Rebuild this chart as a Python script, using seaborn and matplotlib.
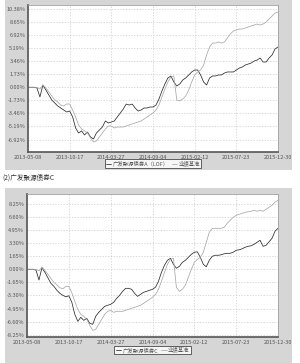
import numpy as np
import pandas as pd
import matplotlib
matplotlib.use("Agg")
import matplotlib.pyplot as plt
import seaborn as sns
from matplotlib.patches import Rectangle

# ---------------- data ----------------
date_labels = ["2013-05-08", "2013-10-17", "2014-03-27", "2014-09-04",
               "2015-02-12", "2015-07-23", "2015-12-30"]

# Panel 1: 广发聚源债券A(LOF) vs 业绩基准 (cumulative return, %)
fund_a = [0.00, 0.00, 0.00, -0.09, -1.28, 0.30, -0.36, -1.02, -1.69, -2.08,
          -2.48, -2.74, -3.01, -3.27, -3.14, -3.93, -5.39, -6.05, -5.78, -6.31,
          -5.92, -6.58, -6.84, -6.05, -5.65, -5.26, -4.46, -4.73, -4.60, -4.46,
          -3.93, -3.41, -2.88, -2.22, -2.35, -2.22, -2.74, -3.14, -3.01, -2.74,
          -2.74, -2.61, -2.61, -2.35, -1.56, -0.49, 0.44, 1.23, 1.50, 0.70,
          0.17, 0.44, 0.97, 1.23, 1.63, 2.03, 2.29, 2.29, 1.63, 0.70,
          0.30, 1.23, 1.50, 1.50, 1.63, 1.63, 1.89, 2.03, 2.03, 2.03,
          2.29, 2.55, 2.69, 2.95, 3.08, 3.22, 3.48, 3.61, 3.88, 3.35,
          3.35, 3.88, 4.28, 5.07, 5.34]
bench_a = [0.00, 0.00, 0.00, 0.00, -0.23, 0.30, -0.09, -0.62, -1.15, -1.68,
           -1.94, -2.35, -2.48, -2.21, -2.21, -3.01, -3.93, -4.99, -5.52, -5.78,
           -6.05, -6.71, -7.24, -7.11, -6.58, -6.05, -5.52, -5.12, -5.12, -5.39,
           -5.26, -5.26, -5.26, -5.12, -4.99, -4.86, -4.73, -4.59, -4.46, -4.20,
           -3.93, -3.67, -3.40, -3.01, -2.35, -1.28, -0.23, 0.70, 1.36, 1.50,
           -1.69, -1.81, -1.55, -1.15, -0.36, 0.70, 1.63, 2.03, 2.29, 2.95,
           4.28, 5.34, 5.86, 5.86, 6.00, 5.86, 6.00, 6.53, 7.06, 7.45,
           7.59, 7.72, 7.72, 7.85, 7.98, 8.12, 8.25, 8.38, 8.25, 8.38,
           8.65, 9.04, 9.44, 9.84, 9.97]

# Panel 2: 广发聚源债券C vs 业绩基准 (cumulative return, %)
fund_c = [0.00, 0.00, 0.00, -0.09, -1.35, 0.20, -0.38, -1.07, -1.77, -2.15,
          -2.65, -3.03, -3.28, -3.47, -3.34, -4.16, -5.68, -6.56, -6.06, -6.44,
          -6.18, -6.81, -6.94, -5.93, -5.43, -5.05, -4.67, -4.54, -4.42, -4.16,
          -3.66, -3.28, -2.78, -2.40, -2.40, -2.52, -3.03, -3.41, -3.16, -2.90,
          -2.78, -2.65, -2.52, -2.27, -1.51, -0.38, 0.50, 1.14, 1.39, 0.63,
          0.13, 0.38, 0.88, 1.14, 1.51, 1.89, 2.15, 2.21, 1.51, 0.63,
          0.32, 1.14, 1.64, 1.77, 1.77, 1.83, 1.96, 2.02, 2.02, 2.15,
          2.40, 2.46, 2.59, 2.78, 2.90, 2.97, 3.16, 3.41, 3.66, 2.90,
          3.03, 3.47, 3.91, 4.80, 5.17]
bench_c = [0.00, 0.00, 0.00, 0.00, -0.19, 0.25, -0.13, -0.63, -1.14, -1.64,
           -1.96, -2.33, -2.46, -2.15, -2.15, -2.97, -4.04, -5.05, -5.68, -5.93,
           -6.31, -7.07, -7.70, -7.57, -6.94, -6.31, -5.68, -5.30, -5.17, -5.43,
           -5.30, -5.30, -5.30, -5.17, -5.05, -4.92, -4.80, -4.67, -4.54, -4.29,
           -4.04, -3.79, -3.53, -3.16, -2.52, -1.51, -0.38, 0.63, 1.26, 1.39,
           -2.27, -2.78, -2.52, -2.02, -1.01, 0.00, 0.88, 1.26, 1.51, 2.15,
           3.41, 4.67, 5.17, 5.17, 5.17, 5.17, 5.30, 5.81, 6.18, 6.56,
           6.81, 6.94, 7.07, 7.19, 7.26, 7.32, 7.45, 7.32, 7.45, 7.32,
           7.57, 7.82, 8.08, 8.46, 8.71]

yticks_a = [-6.92, -5.19, -3.46, -1.73, 0.00, 1.73, 3.46, 5.19, 6.92, 8.65, 10.38]
yticks_c = [-8.25, -6.60, -4.95, -3.30, -1.65, 0.00, 1.65, 3.30, 4.95, 6.60, 8.25]

name_a = "广发聚源债券A（LOF）"
name_c = "广发聚源债券C"
name_b = "业绩基准"
subtitle = "(2)广发聚源债券C"

# ---------------- style ----------------
sns.set_style("white")
plt.rcParams['font.family'] = ['Noto Sans CJK SC', 'DejaVu Sans']

W, H = 300, 363
fig = plt.figure(figsize=(W / 100, H / 100), dpi=100)
fig.patch.set_facecolor("white")

GRAY_BG = "#d6d6d6"
DARK = "#2b2b2b"
LIGHT = "#a8a8a8"
TXT = "#555555"


def px_rect(x0, y0, x1, y1):
    """pixel box (top-left origin) -> figure fraction [l, b, w, h]"""
    return [x0 / W, (H - y1) / H, (x1 - x0) / W, (y1 - y0) / H]


# gray panel backgrounds
for (x0, y0, x1, y1) in [(5, 0, 292, 170), (5, 188, 292, 363)]:
    l, b, w, h = px_rect(x0, y0, x1, y1)
    fig.patches.append(Rectangle((l, b), w, h, transform=fig.transFigure,
                                 facecolor=GRAY_BG, edgecolor="none", zorder=-10))


def panel(box, fund, bench, fund_name, yticks, ylim, leg_y):
    ax = fig.add_axes(px_rect(*box))
    ax.set_zorder(1)
    ax.set_facecolor("white")
    n = len(fund)
    df = pd.DataFrame({
        "x": list(range(n)) * 2,
        "v": list(fund) + list(bench),
        "s": [fund_name] * n + [name_b] * n,
    })
    sns.lineplot(data=df, x="x", y="v", hue="s", palette=[DARK, LIGHT],
                 linewidth=0.55, ax=ax, legend=True)
    xt = np.linspace(0, n - 1, len(date_labels))
    ax.set_xticks(xt)
    ax.set_xticklabels(date_labels)
    ax.set_yticks(yticks)
    ax.set_yticklabels([f"{v:.2f}%" for v in yticks])
    ax.set_xlim(0, n - 1)
    ax.set_ylim(*ylim)
    ax.set_xlabel("")
    ax.set_ylabel("")
    ax.grid(True, color="#cccccc", linestyle=(0, (2, 2)), linewidth=0.5)
    ax.tick_params(axis="both", length=0, pad=2, labelsize=4.0, colors=TXT)
    for side in ["left", "bottom"]:
        ax.spines[side].set_color("#555555")
        ax.spines[side].set_linewidth(1.2)
    for side in ["top", "right"]:
        ax.spines[side].set_color("#a0a0a0")
        ax.spines[side].set_linewidth(0.6)
    leg = ax.legend(loc="center", bbox_to_anchor=(0.5, leg_y), ncol=2,
                    frameon=True, fontsize=3.9, handlelength=1.0,
                    handletextpad=0.2, columnspacing=0.6, borderpad=0.25,
                    fancybox=False, title=None)
    leg.get_frame().set_edgecolor("#222222")
    leg.get_frame().set_linewidth(0.6)
    for t in leg.get_texts():
        t.set_color(TXT)
    return ax


panel((28, 5, 278, 152), fund_a, bench_a, name_a, yticks_a, (-8.57, 10.90), -0.08)
panel((27, 194, 278, 337), fund_c, bench_c, name_c, yticks_c, (-8.54, 9.50), -0.09)

fig.text(2 / W, 1 - 178 / H, subtitle, fontsize=4.8, color="#333333",
         va="center", ha="left")

fig.savefig("out.png", dpi=100)
